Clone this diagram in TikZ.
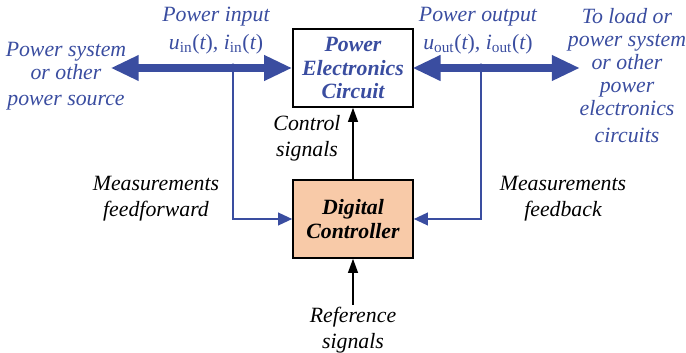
\documentclass[tikz,border=0pt]{standalone}
\usepackage{fontspec}
\setmainfont{Liberation Serif}
\usetikzlibrary{arrows.meta,positioning,calc}
\definecolor{pblue}{RGB}{58,77,160}
\definecolor{peach}{RGB}{248,202,168}
\newcommand{\sigval}[2]{#1{\upshape\textsubscript{#2}(}t{\upshape)}}

\begin{document}
\begin{tikzpicture}[x=0.025cm, y=-0.025cm,
    every node/.style={font=\fontsize{15.5}{16.5}\selectfont\itshape, align=center, inner sep=0pt},
    blocknode/.style={draw, line width=1.1pt, minimum width=3cm, minimum height=1.95cm,
        font=\fontsize{15.5}{16.5}\selectfont\bfseries\itshape},
    powerline/.style={pblue, line width=5pt, {Triangle[length=20pt, width=17pt]}-{Triangle[length=20pt, width=17pt]}, shorten <=-1pt},
    measline/.style={pblue, line width=1.3pt, -{Triangle[length=10pt, width=9pt]}},
    sigline/.style={black, line width=1.1pt, -{Triangle[length=10pt, width=7pt]}},
    bluetext/.style={text=pblue},
    widetext/.style={font=\fontsize{15.5}{18.5}\selectfont\itshape}]
    \useasboundingbox (0,0) rectangle (686,353);

    % blocks
    \node[blocknode, text=pblue] (pec) at (353,68) {Power\\Electronics\\Circuit};
    \node[blocknode, fill=peach] (dc) at (353,219) {Digital\\Controller};

    % power flow
    \coordinate (srcL) at (112,68);
    \coordinate (srcR) at (580,68);
    \coordinate (inJ) at (233,68);
    \coordinate (outJ) at (481,68);
    \draw[powerline] (srcL) -- (pec.west);
    \draw[powerline] (pec.east) -- (srcR);
    \fill[pblue] (inJ) circle (3.2pt) (outJ) circle (3.2pt);

    % measurements
    \draw[measline] (inJ) |- (dc.west);
    \draw[measline] (outJ) |- (dc.east);

    % signals
    \coordinate (refS) at (353,305);
    \draw[sigline] (dc.north) -- (pec.south);
    \draw[sigline] (refS) -- (dc.south);

    % labels
    \node[bluetext] (pin) at (216,17) {Power input};
    \node[bluetext] (pinv) at (216,44) {\sigval{u}{in}, \sigval{i}{in}};
    \node[bluetext] (psys) at (66,61) {Power system\\or other};
    \node[bluetext] (psrc) at (66,103) {power source};
    \node[bluetext] (pout) at (478,17) {Power output};
    \node[bluetext] (poutv) at (478,44) {\sigval{u}{out}, \sigval{i}{out}};
    \node[bluetext] (load) at (627,62) {To load or\\power system\\or other\\power\\electronics};
    \node[bluetext] (circ) at (627,135) {circuits};
    \node[widetext] (ctrl) at (307,138) {Control\\signals};
    \node[widetext] (mff) at (156,199) {Measurements\\feedforward};
    \node[widetext] (mfb) at (563,199) {Measurements\\feedback};
    \node[widetext] (refl) at (353,330) {Reference\\signals};
\end{tikzpicture}
\end{document}
